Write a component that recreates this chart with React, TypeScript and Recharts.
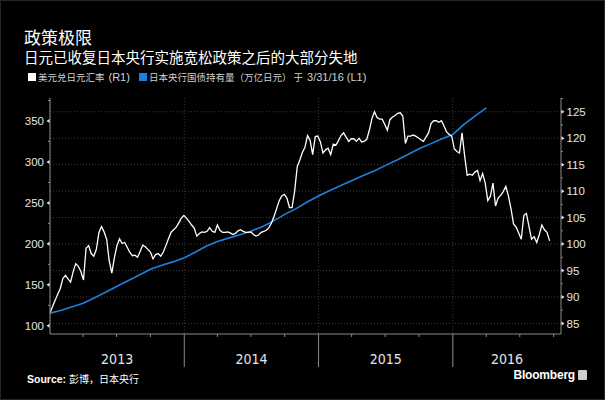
import React from "react";
import { LineChart, Line, XAxis, YAxis, CartesianGrid } from "recharts";

const DAY = 86400000;
const START = Date.UTC(2013, 0, 1);
const END = START + 1389 * DAY;

const years = [2013, 2014, 2015, 2016];

// USD/JPY, weekly from 2013-01-01 (right axis)
const usdJpyWeekly = [
  87.0, 88.2, 89.4, 90.5, 91.6, 93.5, 94.1, 93.4, 92.8, 94.8, 96.3, 95.8, 94.8, 93.2, 99.2, 99.7,
  98.2, 97.7, 99.0, 102.2, 103.3, 102.3, 100.9, 96.8, 94.5, 97.4, 99.7, 101.0, 100.1, 100.3, 99.4,
  98.4, 97.8, 97.9, 97.5, 98.6, 99.8, 99.5, 99.0, 98.5, 97.2, 98.0, 98.2, 97.7, 98.5, 99.7, 101.0,
  102.2, 102.7, 103.2, 104.0, 104.9, 105.4,
  104.9, 104.3, 103.6, 103.0, 101.5, 102.0, 102.3, 102.2, 102.4, 103.1, 102.4, 102.2, 103.6, 102.6,
  102.2, 102.2, 102.3, 102.1, 101.8, 102.0, 102.5, 102.7, 102.4, 102.2, 102.2, 102.3, 101.8, 101.5,
  101.7, 102.2, 102.4, 102.6, 103.1, 104.0, 105.2, 106.7, 108.2, 109.1, 109.4, 108.7, 106.9, 106.9,
  110.0, 114.6, 115.9, 117.3, 118.3, 120.5, 119.6, 116.9, 120.3, 120.4,
  119.3, 117.2, 117.8, 118.1, 116.9, 118.9, 118.7, 119.5, 120.5, 121.0, 120.2, 119.4, 119.9, 119.9,
  119.4, 120.0, 119.3, 119.4, 119.8, 121.5, 123.7, 125.0, 123.9, 123.6, 123.6, 122.6, 121.5, 123.5,
  124.0, 124.3, 124.7, 124.8, 124.2, 119.0, 120.4, 120.4, 120.6, 120.4, 120.1, 119.7, 119.4, 120.2,
  121.0, 122.8, 123.3, 123.3, 123.0, 123.3, 122.3, 121.2, 120.7, 120.4, 118.0,
  117.5, 117.2, 121.0, 116.7, 113.0, 113.2, 113.0, 113.6, 113.9, 112.0, 113.3, 111.5, 108.2, 109.0,
  111.5, 107.2, 108.7, 109.2, 109.9, 110.9, 109.1, 106.7, 103.8, 103.2, 102.1, 100.9, 105.4, 105.8,
  103.3, 100.9, 101.4, 100.3, 101.8, 103.6, 102.7, 102.2, 100.6,
];

// BoJ JGB holdings, trillion yen, monthly from Jan 2013 (left axis)
const bojHoldingsMonthly = [
  115.5, 119, 123, 127.5, 134, 141, 148, 155, 162, 169, 174, 178,
  183, 190, 197, 203, 207, 211, 215.5, 221, 228, 236, 243, 251,
  258.5, 265, 271, 277, 283, 289, 295.5, 302, 309, 316, 322, 328,
  333.5, 346, 356, 366,
];

const leftTicks = [100, 125, 150, 175, 200, 225, 250, 275, 300, 325, 350, 375];
const rightTicks = [85, 87.5, 90, 92.5, 95, 97.5, 100, 102.5, 105, 107.5, 110, 112.5, 115, 117.5, 120, 122.5, 125, 127.5];
const rightMajor = [85, 90, 95, 100, 105, 110, 115, 120, 125];

const usdJpyData = usdJpyWeekly.map((v, i) => ({ date: START + i * 7 * DAY, usdjpy: v }));
const bojData = bojHoldingsMonthly.map((v, m) => ({ date: Date.UTC(2013, m, 1), boj: v }));

const yearStarts = years.map((y) => Date.UTC(y, 0, 1));
const quarterTicks = years
  .flatMap((y) => [0, 3, 6, 9].map((m) => Date.UTC(y, m, 1)))
  .filter((t) => t > START && t < END);
const labelTicks = years.map(
  (y) => (Math.max(Date.UTC(y, 0, 1), START) + Math.min(Date.UTC(y + 1, 0, 1), END)) / 2
);

const NUM_FONT = "'Liberation Sans', Arial, sans-serif";
const NARROW_FONT = "'Liberation Sans Narrow', 'DejaVu Sans Condensed', 'Liberation Sans', sans-serif";
const CJK_FONT = "'Noto Sans CJK SC', sans-serif";
const AXIS = "#8c8c8c";

// @ts-ignore
function XTick(props) {
  const { x, y, payload } = props;
  const v = payload.value;
  const li = labelTicks.indexOf(v);
  if (li >= 0)
    return (
      <text x={x} y={y + 30} textAnchor="middle" fill="#e6e6e6" fontSize={14} fontFamily={NARROW_FONT}>
        {years[li]}
      </text>
    );
  if (yearStarts.includes(v)) return <line x1={x} x2={x} y1={y} y2={y + 33} stroke={AXIS} />;
  return <line x1={x} x2={x} y1={y} y2={y + 3} stroke={AXIS} />;
}

// @ts-ignore
function LeftTick(props) {
  const { x, y, payload } = props;
  const v = payload.value;
  if (v % 50 !== 0) return <line x1={x} x2={x - 2} y1={y} y2={y} stroke={AXIS} />;
  return (
    <g>
      <path d={`M${x - 0.5},${y - 2} L${x - 3.5},${y} L${x - 0.5},${y + 2} Z`} fill="#e6e6e6" />
      <text x={x - 6} y={y} dy="0.36em" textAnchor="end" fill="#e6e6e6" fontSize={11.5} fontFamily={NUM_FONT}>
        {v}
      </text>
    </g>
  );
}

// @ts-ignore
function RightTick(props) {
  const { x, y, payload } = props;
  const v = payload.value;
  if (v % 5 !== 0) return <line x1={x} x2={x + 2} y1={y} y2={y} stroke={AXIS} />;
  return (
    <g>
      <path d={`M${x + 0.5},${y - 2} L${x + 3.5},${y} L${x + 0.5},${y + 2} Z`} fill="#e6e6e6" />
      <text x={x + 5.5} y={y} dy="0.36em" textAnchor="start" fill="#e6e6e6" fontSize={11.5} fontFamily={NUM_FONT}>
        {v}
      </text>
    </g>
  );
}

export default function App() {
  return (
    <div
      style={{
        position: "absolute",
        left: 0,
        top: 0,
        width: 605,
        height: 400,
        background: "#000",
        boxShadow: "inset 0 0 0 1px #262626",
        overflow: "hidden",
      }}
    >
      <LineChart
        width={605}
        height={400}
        margin={{ top: 98, right: 0, left: 0, bottom: 26 }}
        style={{ position: "absolute", left: 0, top: 0 }}
      >
        <CartesianGrid
          xAxisId="time"
          yAxisId="right"
          horizontalValues={rightMajor}
          verticalValues={yearStarts}
          stroke="#3c3c3c"
          strokeDasharray="1 2"
        />
        <XAxis
          xAxisId="time"
          type="number"
          dataKey="date"
          domain={[START, END]}
          ticks={[...quarterTicks, ...labelTicks].sort((a, b) => a - b)}
          interval={0}
          allowDataOverflow
          height={40}
          stroke={AXIS}
          tickLine={false}
          tickSize={0}
          tickMargin={0}
          tick={(p) => <XTick {...p} />}
        />
        <YAxis
          yAxisId="left"
          orientation="left"
          domain={[90, 378]}
          ticks={leftTicks}
          interval={0}
          allowDataOverflow
          width={50}
          stroke={AXIS}
          tickLine={false}
          tickSize={0}
          tickMargin={0}
          tick={(p) => <LeftTick {...p} />}
        />
        <YAxis
          yAxisId="right"
          orientation="right"
          domain={[83, 127.6]}
          ticks={rightTicks}
          interval={0}
          allowDataOverflow
          width={44}
          stroke={AXIS}
          tickLine={false}
          tickSize={0}
          tickMargin={0}
          tick={(p) => <RightTick {...p} />}
        />
        <Line
          xAxisId="time"
          yAxisId="left"
          data={bojData}
          dataKey="boj"
          stroke="#1f7fdc"
          strokeWidth={1.6}
          dot={false}
          isAnimationActive={false}
        />
        <Line
          xAxisId="time"
          yAxisId="right"
          data={usdJpyData}
          dataKey="usdjpy"
          stroke="#ffffff"
          strokeWidth={1.3}
          dot={false}
          isAnimationActive={false}
        />
      </LineChart>

      <div style={{ position: "absolute", left: 24, top: 28, fontFamily: CJK_FONT, fontSize: 17, lineHeight: "17px", color: "#fff" }}>
        政策极限
      </div>
      <div style={{ position: "absolute", left: 24, top: 49, fontFamily: CJK_FONT, fontSize: 14.5, lineHeight: "15px", color: "#fff" }}>
        日元已收复日本央行实施宽松政策之后的大部分失地
      </div>

      <div
        style={{
          position: "absolute",
          left: 28,
          top: 71,
          display: "flex",
          alignItems: "center",
          fontFamily: CJK_FONT,
          fontSize: 9.5,
          lineHeight: "12px",
          color: "#d0d0d0",
          whiteSpace: "nowrap",
        }}
      >
        <span style={{ width: 8, height: 8, background: "#fff", marginRight: 2 }} />
        <span>美元兑日元汇率</span>
        <span style={{ fontFamily: NUM_FONT, fontSize: 11, marginLeft: 4 }}>(R1)</span>
        <span style={{ width: 8, height: 8, background: "#1f7fdc", marginLeft: 9, marginRight: 2 }} />
        <span>日本央行国债持有量（万亿日元） 于</span>
        <span style={{ fontFamily: NUM_FONT, fontSize: 11, marginLeft: 4 }}>3/31/16 (L1)</span>
      </div>

      <div
        style={{
          position: "absolute",
          left: 27,
          top: 371,
          display: "flex",
          alignItems: "baseline",
          color: "#fff",
          whiteSpace: "nowrap",
        }}
      >
        <span style={{ fontFamily: NUM_FONT, fontWeight: 700, fontSize: 10.5 }}>Source:</span>
        <span style={{ fontFamily: CJK_FONT, fontSize: 10, marginLeft: 3 }}>彭博，日本央行</span>
      </div>
      <div
        style={{
          position: "absolute",
          right: 18,
          top: 368,
          display: "flex",
          alignItems: "center",
          color: "#fff",
          fontFamily: NUM_FONT,
          fontWeight: 700,
          fontSize: 12,
          letterSpacing: -0.2,
        }}
      >
        <span>Bloomberg</span>
        <span
          style={{
            width: 9,
            height: 10,
            marginLeft: 3,
            background: "#cfcfcf",
            borderRadius: 1,
            display: "inline-block",
          }}
        />
      </div>
    </div>
  );
}
